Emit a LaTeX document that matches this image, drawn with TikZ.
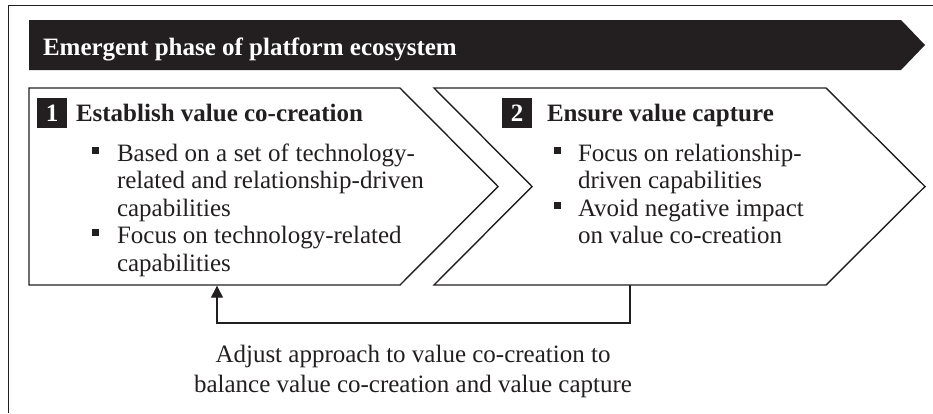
\documentclass[tikz,border=0pt]{standalone}
\usepackage{fontspec}
\setmainfont{Liberation Serif}
\usetikzlibrary{arrows.meta}
\definecolor{ink}{HTML}{231F20}
\begin{document}
\begin{tikzpicture}[x=1pt,y=-1pt,
  every node/.style={inner sep=0pt, outer sep=0pt, text=ink},
  body/.style={font=\fontsize{25}{27.5}\selectfont, anchor=base west},
  head/.style={font=\bfseries\fontsize{25}{27.5}\selectfont, anchor=base west},
  numbox/.style={fill=ink, minimum width=30pt, minimum height=30pt,
    text=white, font=\bfseries\fontsize{25}{27.5}\selectfont},
  bulletsq/.style={fill=ink, minimum size=7pt},
  phase/.style={draw=ink, line width=1.4pt, line join=miter},
  loopback/.style={draw=ink, line width=1.4pt,
    -{Triangle[width=12pt,length=12pt]}},
]
\useasboundingbox (0,0) rectangle (933,413);

% outer frame
\draw[ink, line width=1.2pt] (8.5,413) -- (8.5,5.5) -- (933,5.5);

% banner arrow
\fill[ink] (29,20) -- (901,20) -- (925,45) -- (901,70) -- (29,70) -- cycle;
\node[head, text=white] (banner) at (43,55) {Emergent phase of platform ecosystem};

% step 1 chevron
\draw[phase] (29,88) -- (400,88) -- (498,186.5) -- (400,285) -- (29,285) -- cycle;
\node[numbox] (n1) at (52,113) {1};
\node[head] (t1) at (76,121) {Establish value co-creation};
\node[bulletsq] (b1a) at (95,150) {};
\node[body] (l1a) at (117,161) {\makebox[298pt][s]{Based on a set of technology-}};
\node[body] (l1b) at (117,188.5) {related and relationship-driven};
\node[body] (l1c) at (117,216) {capabilities};
\node[bulletsq] (b1b) at (95,232.5) {};
\node[body] (l1d) at (117,243.5) {Focus on technology-related};
\node[body] (l1e) at (117,271) {capabilities};

% step 2 chevron
\draw[phase] (434,88) -- (826,88) -- (925,186.5) -- (826,285) -- (434,285) -- (532,186.5) -- cycle;
\node[numbox] (n2) at (517,113) {2};
\node[head] (t2) at (547,121) {Ensure value capture};
\node[bulletsq] (b2a) at (557,150) {};
\node[body] (l2a) at (578,161) {Focus on relationship-};
\node[body] (l2b) at (578,188.5) {driven capabilities};
\node[bulletsq] (b2b) at (557,205) {};
\node[body] (l2c) at (578,216) {Avoid negative impact};
\node[body] (l2d) at (578,243.5) {on value co-creation};

% feedback loop from step 2 back to step 1
\coordinate (fbout) at (630,285);
\coordinate (fbin) at (217,285.7);
\draw[loopback] (fbout) -- ++(0,38) -| (fbin);

\node[font=\fontsize{25}{30}\selectfont, align=center, anchor=base] (note) at (413,392)
  {Adjust approach to value co-creation to\\balance value co-creation and value capture};
\end{tikzpicture}
\end{document}
